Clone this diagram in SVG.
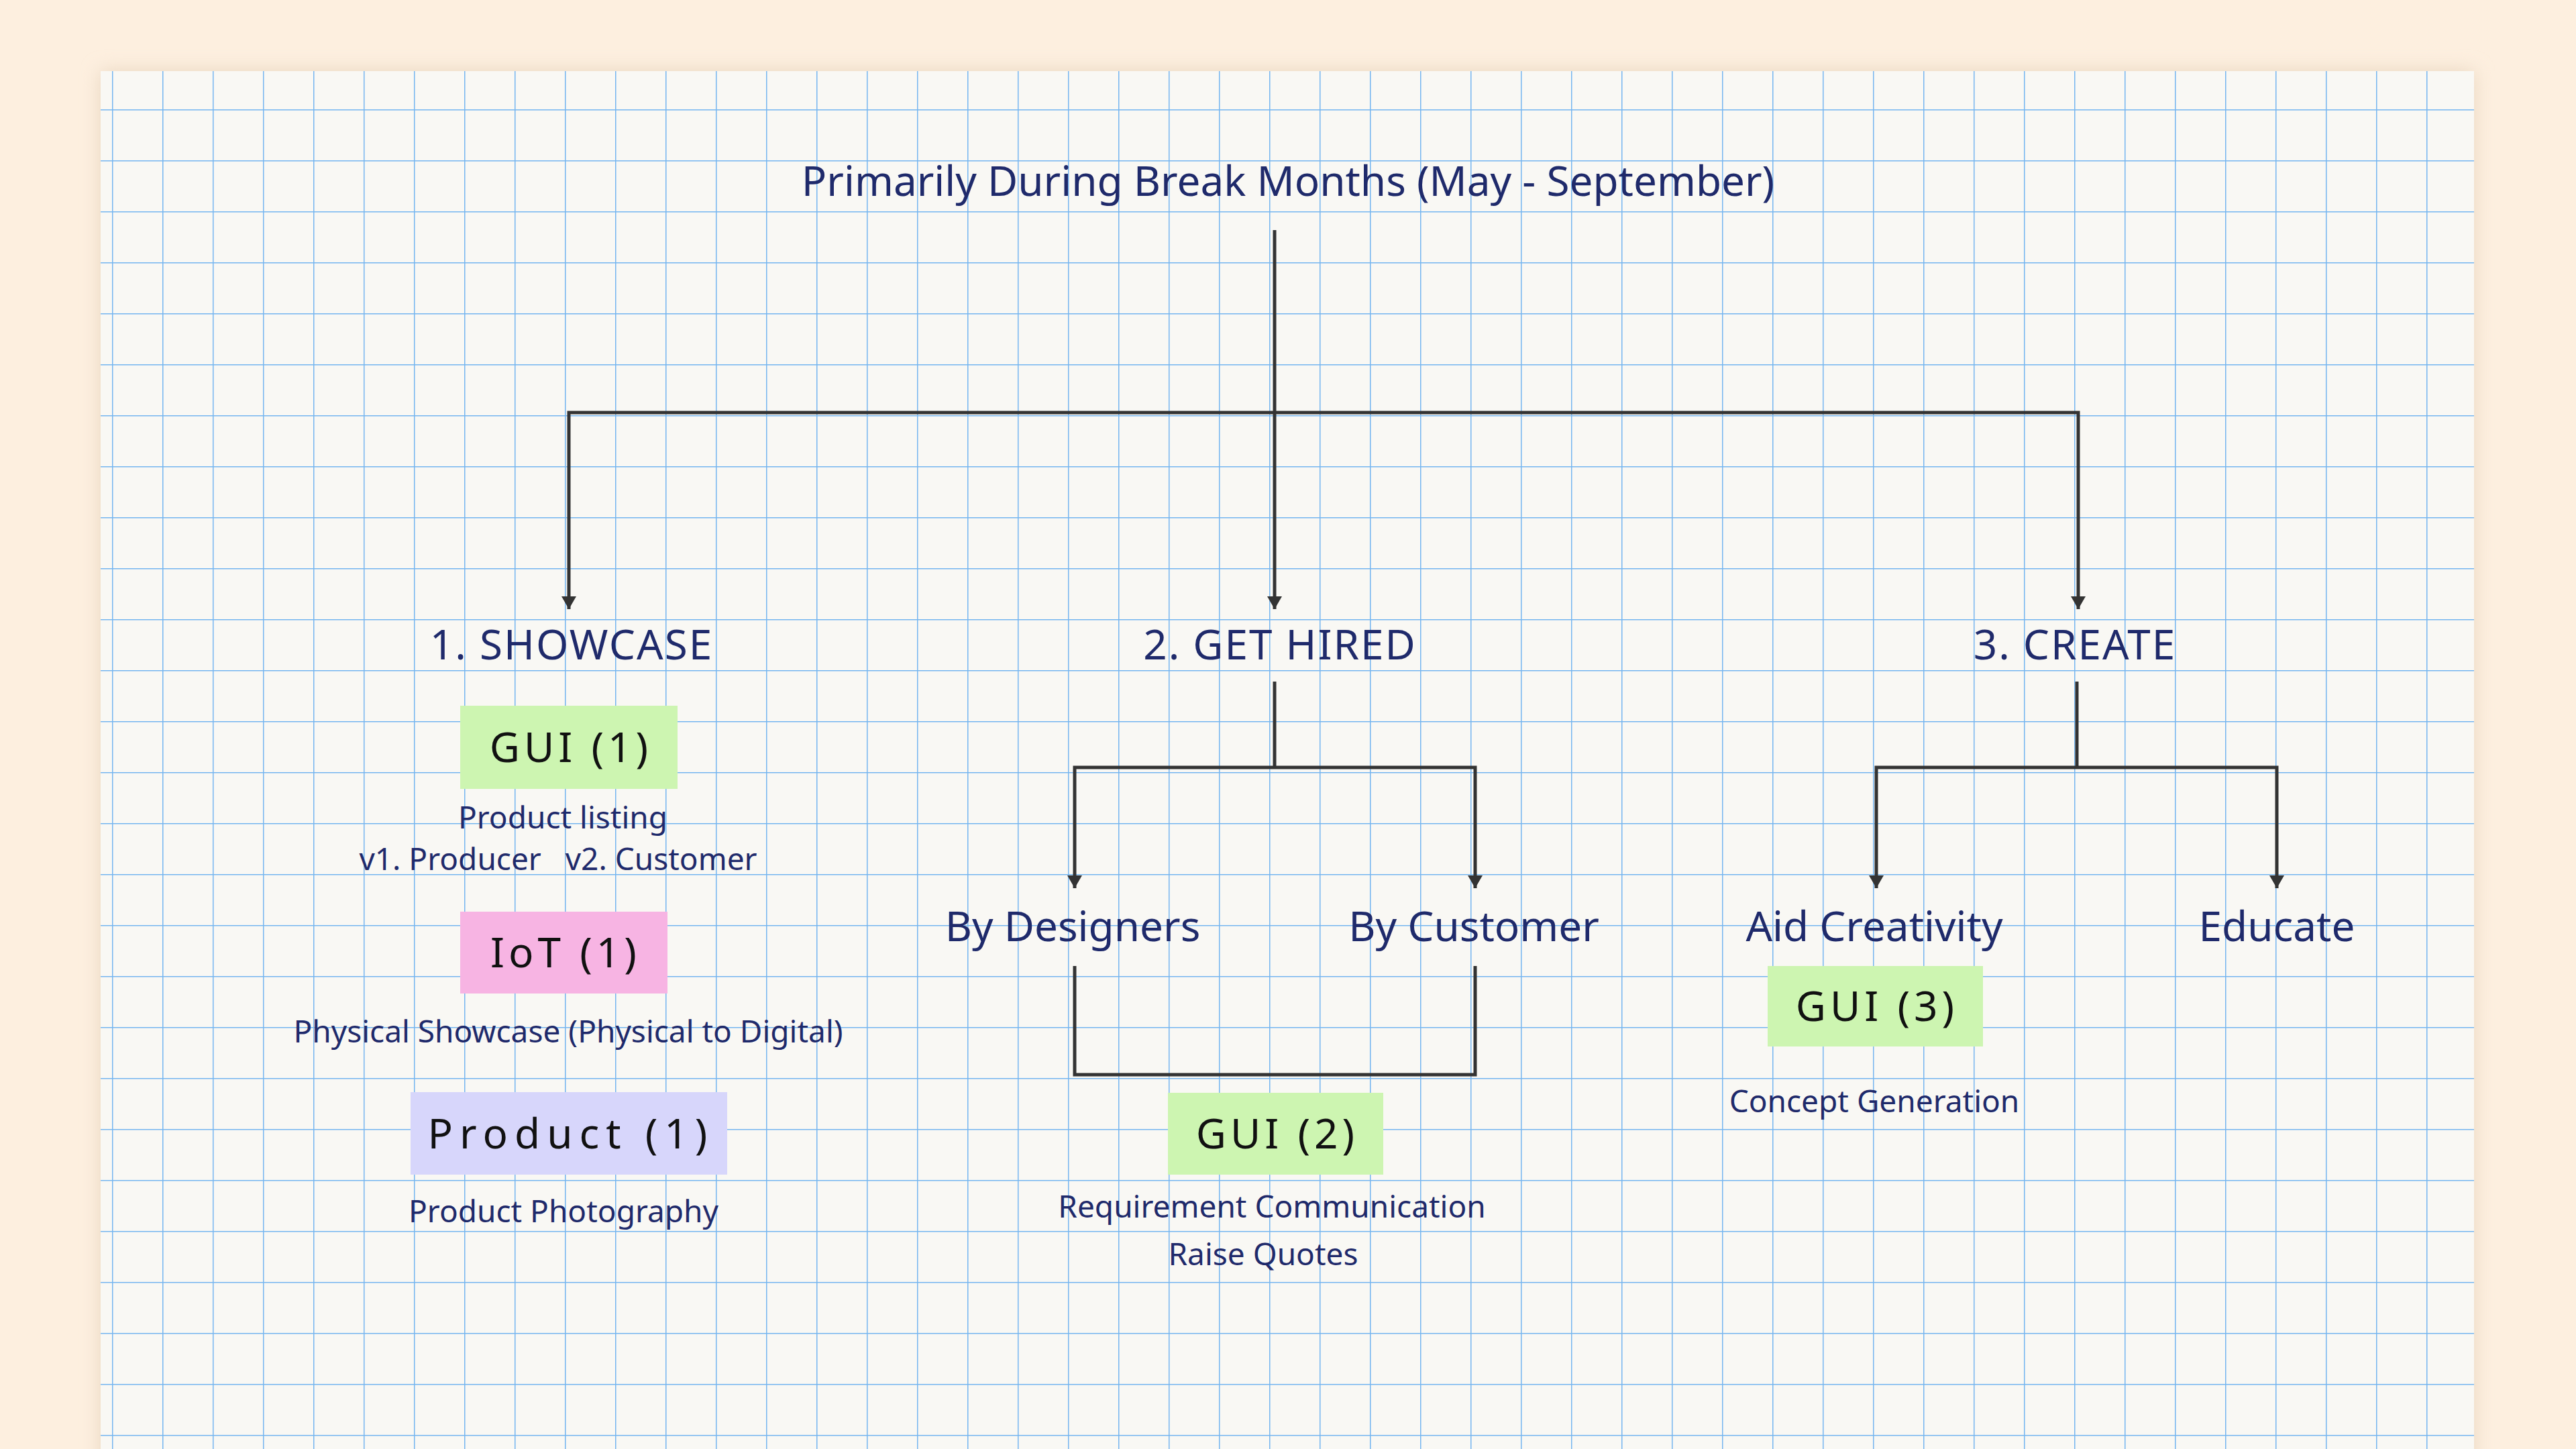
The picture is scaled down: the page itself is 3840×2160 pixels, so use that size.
<svg xmlns="http://www.w3.org/2000/svg" width="3840" height="2160" viewBox="0 0 3840 2160">
<defs>
<pattern id="grid" x="167" y="163" width="75" height="76" patternUnits="userSpaceOnUse">
<path d="M0 0V76M0 0H75" fill="none" stroke="#3d9aee" stroke-width="3" opacity="0.7"/>
</pattern>
<filter id="sh" x="-5%" y="-5%" width="110%" height="110%"><feGaussianBlur stdDeviation="14"/></filter>
<marker id="ar" viewBox="-12 -20 24 22" refX="0" refY="0" markerWidth="24" markerHeight="22" orient="0" markerUnits="userSpaceOnUse"><path d="M-11 -19 L11 -19 L0 0 Z" fill="#333"/></marker>
</defs>
<style>
.ln{fill:none;stroke:#333;stroke-width:5}
.t{font-family:"Noto Sans","Liberation Sans",sans-serif;fill:#1f2a6b;text-anchor:middle}
.h{font-size:62px}
.s{font-size:46px}
.b{font-family:"Noto Sans","Liberation Sans",sans-serif;fill:#111;font-size:62px;letter-spacing:6px;text-anchor:middle}
</style>
<rect width="3840" height="2160" fill="#fdefdf"/>
<rect x="150" y="106" width="3538" height="2100" fill="#e8d6c0" filter="url(#sh)"/>
<rect x="150" y="106" width="3538" height="2100" fill="#f9f8f4"/>
<rect x="150" y="106" width="3538" height="2100" fill="url(#grid)"/>
<g id="connectors">
<path class="ln" d="M1900 343V615"/>
<path class="ln" d="M848 908V615H3098V908" marker-start="url(#ar)" marker-end="url(#ar)"/>
<path class="ln" d="M1900 615V908" marker-end="url(#ar)"/>
<path class="ln" d="M1900 1016V1144"/>
<path class="ln" d="M1602 1324V1144H2199V1324" marker-start="url(#ar)" marker-end="url(#ar)"/>
<path class="ln" d="M1602 1440V1602H2199V1440"/>
<path class="ln" d="M3096 1016V1144"/>
<path class="ln" d="M2797 1324V1144H3394V1324" marker-start="url(#ar)" marker-end="url(#ar)"/>
</g>
<g id="title"><text class="t h" x="1920" y="292">Primarily During Break Months (May - September)</text></g>
<g id="showcase"><text class="t h" x="852" y="983" style="letter-spacing:2px">1. SHOWCASE</text></g>
<g id="gethired"><text class="t h" x="1908" y="983" style="letter-spacing:2px">2. GET HIRED</text></g>
<g id="create"><text class="t h" x="3093" y="983" style="letter-spacing:2px">3. CREATE</text></g>
<g id="gui1"><rect x="686" y="1052" width="324" height="124" fill="#cdf5b1"/><text class="b" x="851" y="1136">GUI (1)</text>
<text class="t s" x="839" y="1235">Product listing</text><text class="t s" x="832" y="1297" xml:space="preserve">v1. Producer   v2. Customer</text></g>
<g id="iot1"><rect x="686" y="1359" width="309" height="122" fill="#f7b4e3"/><text class="b" x="843" y="1442">IoT (1)</text>
<text class="t s" x="847" y="1554">Physical Showcase (Physical to Digital)</text></g>
<g id="product1"><rect x="612" y="1628" width="472" height="123" fill="#d7d6fb"/><text class="b" x="851" y="1712" style="letter-spacing:10px">Product (1)</text>
<text class="t s" x="840" y="1822">Product Photography</text></g>
<g id="bydesigners"><text class="t h" x="1599" y="1403">By Designers</text></g>
<g id="bycustomer"><text class="t h" x="2197" y="1403">By Customer</text></g>
<g id="gui2"><rect x="1741" y="1629" width="321" height="122" fill="#cdf5b1"/><text class="b" x="1904" y="1712">GUI (2)</text>
<text class="t s" x="1896" y="1815">Requirement Communication</text><text class="t s" x="1883" y="1886">Raise Quotes</text></g>
<g id="aidcreativity"><text class="t h" x="2794" y="1403">Aid Creativity</text></g>
<g id="educate"><text class="t h" x="3394" y="1403">Educate</text></g>
<g id="gui3"><rect x="2635" y="1440" width="321" height="120" fill="#cdf5b1"/><text class="b" x="2798" y="1522">GUI (3)</text>
<text class="t s" x="2794" y="1658">Concept Generation</text></g>
</svg>
